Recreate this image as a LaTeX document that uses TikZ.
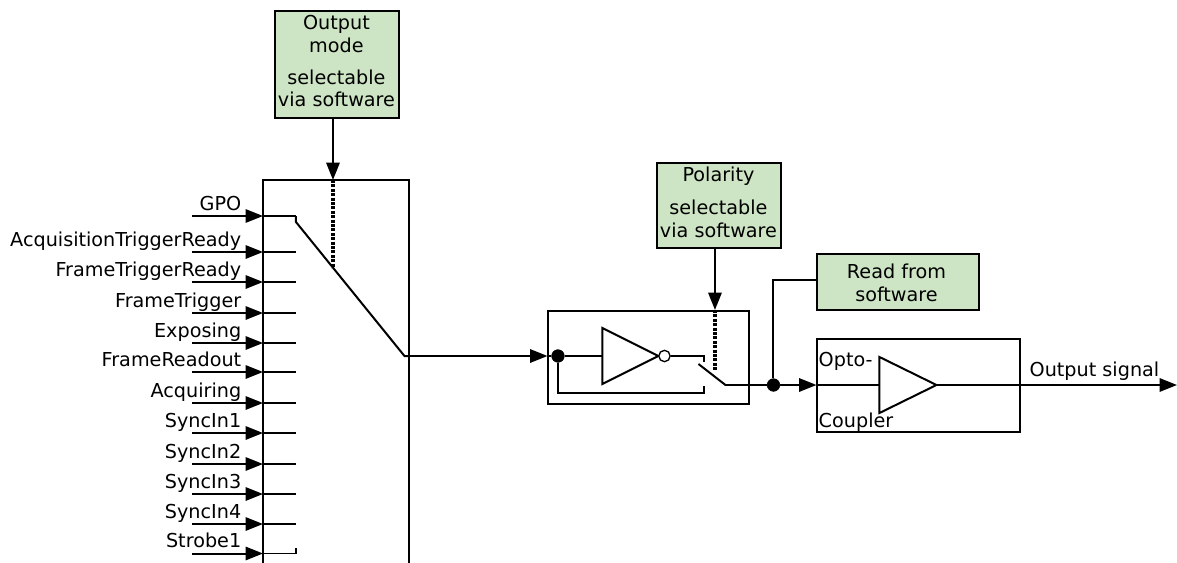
\documentclass[tikz,border=0pt]{standalone}
\usepackage{fontspec}
\setmainfont{DejaVu Sans}
\usetikzlibrary{arrows.meta,calc}
\definecolor{softgreen}{HTML}{CDE5C4}
\tikzset{
  wire/.style={line width=1.5pt,line cap=butt,line join=miter},
  thin wire/.style={line width=1.3pt},
  arrowed/.style={wire,-{Triangle[length=13pt,width=10pt]}},
  dots/.style={line width=2.3pt,dash pattern=on 2.2pt off 1.1pt},
  greenbox/.style={draw,line width=1.5pt,fill=softgreen,inner sep=0pt,anchor=north west},
  openbox/.style={draw,line width=1.5pt,inner sep=0pt,anchor=north west},
  lab/.style={inner sep=0pt,font=\fontsize{14.4}{17}\selectfont},
  dot/.style={circle,fill=black,draw=black,inner sep=0pt,minimum size=9.5pt},
  amp/.style={wire,line join=miter},
}
\begin{document}
\begin{tikzpicture}[x=0.75pt,y=-0.75pt]
\useasboundingbox (0,0) rectangle (1177,563);
\begin{scope}[xshift=-0.4pt]
% green boxes
\node[greenbox,minimum width=93pt,minimum height=80pt] (mode) at (275,10) {};
\node[lab,anchor=base] (modeA) at (337,30) {Output};
\node[lab,anchor=base] (modeB) at (337,53) {mode};
\node[lab,anchor=base] (modeC) at (337,85) {selectable};
\node[lab,anchor=base] (modeD) at (337,107) {via software};
\node[greenbox,minimum width=93pt,minimum height=64pt] (pol) at (657,162) {};
\node[lab,anchor=base] (polA) at (719,181) {Polarity};
\node[lab,anchor=base] (polB) at (719,214) {selectable};
\node[lab,anchor=base] (polC) at (719,237) {via software};
\node[greenbox,minimum width=121.5pt,minimum height=42pt] (read) at (817,253) {};
\node[lab,anchor=base] (readA) at (897,278) {Read from};
\node[lab,anchor=base] (readB) at (897,301) {software};
% big selector box, open at the bottom
\coordinate (bl) at (263.5,563);
\coordinate (tl) at (263.5,180);
\coordinate (tr) at (409.5,180);
\coordinate (br) at (409.5,563);
\draw[wire] (bl) -- (tl) -- (tr) -- (br);
% inputs
\foreach \nm/\txt/\yy in {a/GPO/216,b/AcquisitionTriggerReady/252,c/FrameTriggerReady/282,d/FrameTrigger/313,e/Exposing/343,f/FrameReadout/372,g/Acquiring/403,h/SyncIn1/433,i/SyncIn2/464,j/SyncIn3/494,k/SyncIn4/524,l/Strobe1/553.5}{
  \coordinate (s\nm) at (193,\yy);
  \coordinate (m\nm) at (263.5,\yy);
  \coordinate (e\nm) at (296.5,\yy);
  \node[lab,anchor=base east] (t\nm) at (242,\yy-6) {\txt};
  \draw[arrowed] (s\nm) -- (m\nm);
  \draw[thin wire] (m\nm) -- (e\nm);
}
\coordinate (gpoT) at (296.5,222);
\coordinate (swEnd) at (405,356);
\coordinate (polIn) at (548,356);
\draw[wire] (ea) -- (gpoT) -- (swEnd) -- (409.5,356);
\draw[arrowed] (swEnd) -- (polIn);
\draw[thin wire] (el) -- (296.5,548);
% output-mode control
\draw[arrowed] (mode.south -| 333.5,0) -- (333.5,180);
\draw[dots] (333.5,180) -- (333.5,268);
% polarity box
\node[openbox,minimum width=150.5pt,minimum height=70pt] (pbox) at (548,310) {};
\node[dot] (n1) at (558.5,356) {};
\draw[wire] (polIn) -- (n1);
\coordinate (i1) at (603,356);
\draw[wire] (n1) -- (i1);
\draw[amp] (603,328) -- (659,356) -- (603,384) -- cycle;
\node[circle,draw,line width=1.0pt,fill=white,inner sep=0pt,minimum size=8.5pt] (bub) at (665,356) {};
\draw[wire] (bub) -- (704.5,356) -- (704.5,362);
\draw[wire] (n1) -- (558.5,393) -- (705,393) -- (705,386);
\coordinate (sw) at (726,385);
\draw[wire] (699,364) -- (sw);
\node[dot] (n2) at (774,385) {};
\draw[wire] (sw) -- (n2);
\draw[arrowed] (715.5,247) -- (715.5,310);
\draw[dots] (715.5,310) -- (715.5,370);
% read from software
\draw[wire] (n2) -- (774,280) -- (read.west |- 0,280);
% opto coupler
\node[openbox,minimum width=152pt,minimum height=70pt] (obox) at (817,338) {};
\draw[arrowed] (n2) -- (817,385);
\draw[wire] (817,385) -- (880,385);
\draw[amp] (880,357) -- (937,385) -- (880,413) -- cycle;
\coordinate (outEnd) at (1177.5,385);
\draw[arrowed] (937,385) -- (outEnd);
\node[lab,anchor=base west] (opto) at (819,366) {Opto-};
\node[lab,anchor=base west] (coup) at (819,427) {Coupler};
\node[lab,anchor=base] (osig) at (1095,376) {Output signal};
\end{scope}
\end{tikzpicture}
\end{document}
